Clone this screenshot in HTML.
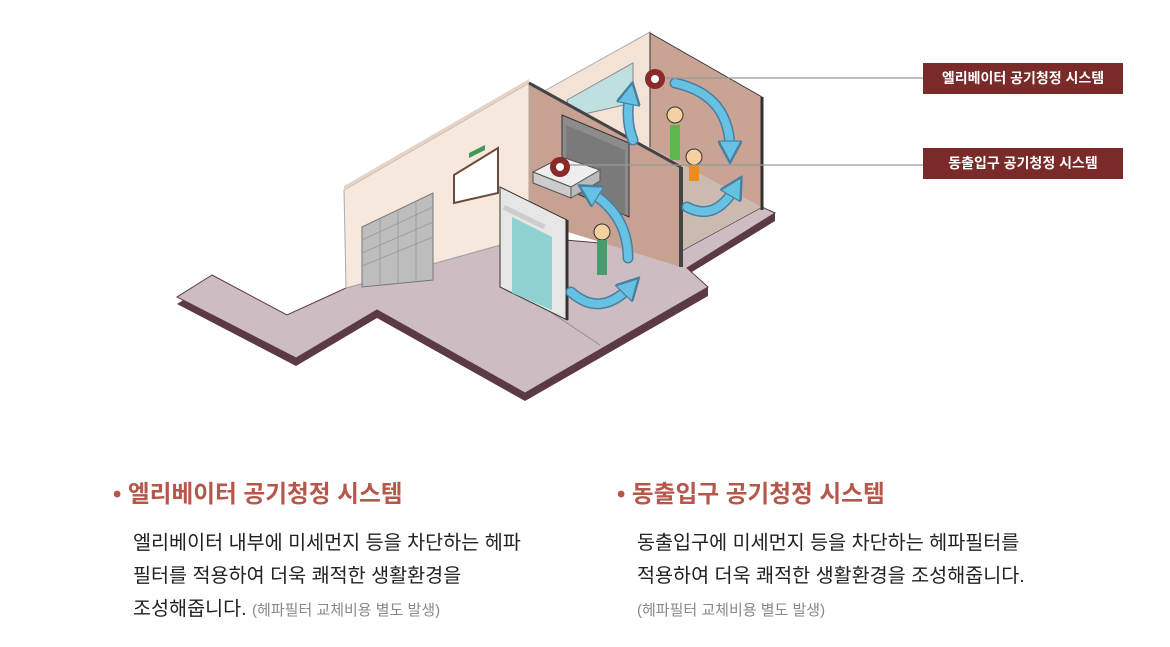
<!DOCTYPE html>
<html><head><meta charset="utf-8"><style>
body{margin:0;width:1170px;height:647px;background:#fff;overflow:hidden;position:relative;font-family:"Liberation Sans","Noto Sans CJK KR",sans-serif}
.lab{position:absolute;left:923px;width:200px;height:31px;background:#7b2a2a;color:#fff;font-size:14px;font-weight:bold;line-height:31px;text-align:center}
.t{position:absolute;font-size:23.7px;font-weight:bold;color:#b5574b;white-space:nowrap}
.b{position:absolute;font-size:19.6px;color:#222;line-height:33px;white-space:nowrap}
.g{font-size:15px;color:#888}
</style></head><body>
<svg width="1170" height="647" style="position:absolute;left:0;top:0">
<defs><marker id="ah" markerWidth="3" markerHeight="3" refX="1.2" refY="1.5" orient="auto"><path d="M0,0 L2.8,1.5 L0,3 Z" fill="#67c1e3" stroke="#4a7fa0" stroke-width="0.3"/></marker></defs>
<polygon points="212,282 177,304 296,366 377,318 525,401 708,296 708,287 687,275 775,221 775,213 687,268 525,393 377,310 296,358 177,297" fill="#5b3a44"/>
<polygon points="212,275 177,297 296,358 377,310 525,393 708,287 687,268 775,213 762,207 683,250 529,237 346,288 287,315" fill="#cdbdc2" stroke="#5b3a44"/>
<line x1="600" y1="345" x2="540" y2="305" stroke="#9a8a8f"/>
<polygon points="546,90 650,32 650,147 683,250 546,200" fill="#f3e2d6" stroke="#aaa"/>
<polygon points="650,33 762,97 762,207 683,250 650,147" fill="#c9a394" stroke="#333" stroke-width="1"/>
<polygon points="650,147 762,207 683,250 620,215" fill="#cbbab0"/>
<line x1="762" y1="97" x2="762" y2="210" stroke="#333" stroke-width="3"/>
<polygon points="567,100 633,63 633,103 571,117" fill="#bfe0e0" stroke="#888"/>
<polygon points="344,190 529,83 529,237 346,288" fill="#f6e8dc" stroke="#aaa"/>
<polygon points="344,186 529,79 529,83 344,190" fill="#e6d3c3"/>
<polygon points="529,83 681,167 681,267 529,220" fill="#c7a191"/>
<polygon points="562,115 629,143 629,217 562,187" fill="#8c8c8c" stroke="#333"/>
<polygon points="566,125 625,150 625,215 566,188" fill="#7a7a7a"/>
<line x1="529" y1="83" x2="681" y2="167" stroke="#444" stroke-width="3"/>
<line x1="681" y1="167" x2="681" y2="267" stroke="#444" stroke-width="4"/>
<polygon points="362,227 433,193 433,280 362,287" fill="#bdbdbd" stroke="#777"/>
<g stroke="#999" stroke-width="0.8"><line x1="362" y1="240" x2="433" y2="207"/><line x1="362" y1="253" x2="433" y2="222"/><line x1="362" y1="266" x2="433" y2="237"/><line x1="380" y1="219" x2="380" y2="286"/><line x1="398" y1="210" x2="398" y2="284"/><line x1="416" y1="201" x2="416" y2="282"/></g>
<polygon points="454,175 498,148 498,193 454,203" fill="#fff" stroke="#6b4a3a" stroke-width="2"/>
<polygon points="469,153 485,145 485,150 469,158" fill="#3f9a5a"/>
<polygon points="533,172 562,157 600,170 571,187" fill="#eee" stroke="#555"/>
<polygon points="533,172 571,187 571,198 533,183" fill="#ccc" stroke="#555"/>
<polygon points="571,187 600,170 600,181 571,198" fill="#bbb" stroke="#555"/>
<polygon points="500,187 567,220 567,320 500,287" fill="#e6e6e6" stroke="#333"/>
<line x1="567" y1="220" x2="567" y2="320" stroke="#333" stroke-width="3"/>
<polygon points="512,217 552,237 552,310 512,293" fill="#8fd0d0"/>
<rect x="505" y="205" width="45" height="5" fill="#ccc" transform="rotate(26 505 205)"/>
<rect x="670" y="125" width="10" height="35" fill="#5cb84a"/><circle cx="675" cy="115" r="8" fill="#f5d0a0" stroke="#333"/>
<circle cx="694" cy="157" r="8" fill="#f5d0a0" stroke="#333"/><rect x="689" y="165" width="10" height="16" fill="#f08a20"/>
<circle cx="602" cy="232" r="8" fill="#f5d0a0" stroke="#333"/><rect x="597" y="240" width="10" height="35" fill="#4a9a70"/>
<g fill="none" stroke="#4a7fa0" stroke-width="11" stroke-linecap="round">
<path d="M571,292 Q600,318 630,287"/><path d="M628,258 Q628,215 590,192"/><path d="M633,140 Q625,120 630,95"/><path d="M675,83 Q730,95 730,150"/><path d="M687,207 Q715,222 735,188"/></g>
<g fill="none" stroke="#67c1e3" stroke-width="8" stroke-linecap="round" marker-end="url(#ah)">
<path d="M571,292 Q600,318 630,287"/><path d="M628,258 Q628,215 590,192"/><path d="M633,140 Q625,120 630,95"/><path d="M675,83 Q730,95 730,150"/><path d="M687,207 Q715,222 735,188"/></g>
<line x1="660" y1="78" x2="923" y2="78" stroke="#999" stroke-width="1.3"/>
<line x1="565" y1="165" x2="923" y2="165" stroke="#999" stroke-width="1.3"/>
<circle cx="655" cy="79" r="10" fill="#8a2a2a"/><circle cx="655" cy="79" r="4" fill="#fff"/>
<circle cx="560" cy="167" r="10" fill="#8a2a2a"/><circle cx="560" cy="167" r="4" fill="#fff"/>
</svg>
<div class="lab" style="top:63px">엘리베이터 공기청정 시스템</div>
<div class="lab" style="top:148px">동출입구 공기청정 시스템</div>
<div class="t" style="left:113px;top:475px">• 엘리베이터 공기청정 시스템</div>
<div class="b" style="left:133px;top:527px">엘리베이터 내부에 미세먼지 등을 차단하는 헤파<br>필터를 적용하여 더욱 쾌적한 생활환경을<br>조성해줍니다. <span class="g">(헤파필터 교체비용 별도 발생)</span></div>
<div class="t" style="left:617px;top:475px">• 동출입구 공기청정 시스템</div>
<div class="b" style="left:637px;top:527px">동출입구에 미세먼지 등을 차단하는 헤파필터를<br>적용하여 더욱 쾌적한 생활환경을 조성해줍니다.<br><span class="g">(헤파필터 교체비용 별도 발생)</span></div>
</body></html>
